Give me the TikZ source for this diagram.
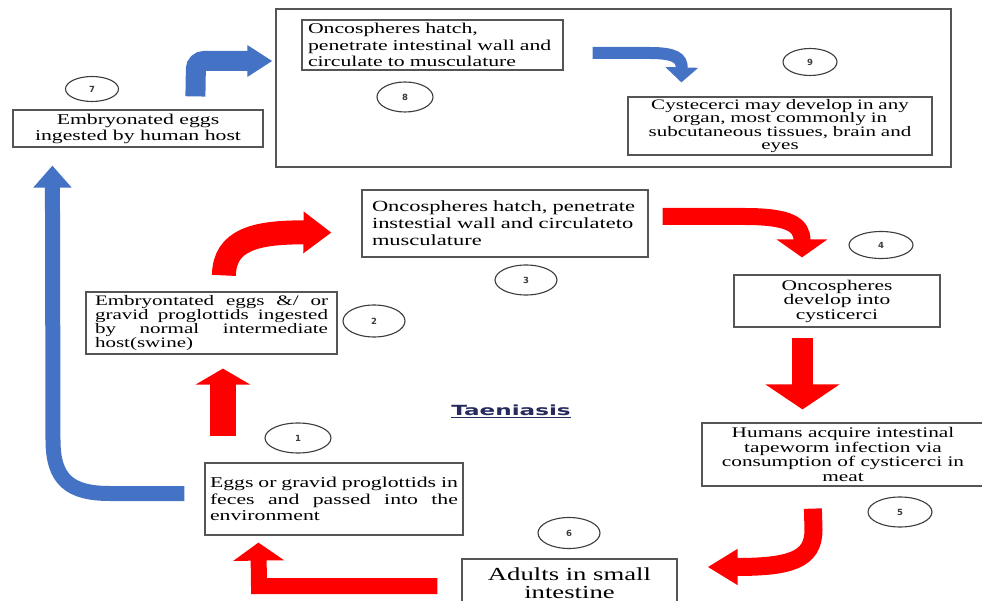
\documentclass[tikz,border=0pt]{standalone}
\usepackage{xcolor}
\usepackage{tikz}
\usepackage{fontspec}
\setmainfont[FakeStretch=1.45]{Liberation Serif}
\newfontfamily\titlefont[FakeStretch=1.65]{DejaVu Sans}
\newfontfamily\ringfont{DejaVu Sans}
\usetikzlibrary{shapes,arrows.meta,positioning,calc}
\definecolor{flowred}{RGB}{255, 0, 0}
\definecolor{flowblue}{RGB}{68, 114, 196}
\definecolor{framegray}{RGB}{85, 85, 85}
\definecolor{ringgray}{RGB}{60, 60, 60}
\definecolor{titlenavy}{RGB}{38, 42, 92}
\newcommand{\spreadline}[1]{\makebox[\hsize]{#1}}
\tikzset{
    stage/.style={draw=framegray, line width=1.2pt, fill=white, inner xsep=6pt, inner ysep=1pt},
    ring/.style={draw=ringgray, ellipse, line width=1.1pt, inner sep=0pt,
        font=\ringfont\bfseries\fontsize{8.5}{8.5}\selectfont, text=ringgray},
    redflow/.style={draw=flowred, line width=#1},
    blueflow/.style={draw=flowblue, line width=#1},
}

\begin{document}
\begin{tikzpicture}[x=1pt, y=-1pt]
    \useasboundingbox (0,0) rectangle (982,601);
    % human host frame
    \node[draw=framegray, line width=1.2pt, minimum width=675, minimum height=158] (hostframe) at (613.5,88) {};
    \node[stage, minimum width=261, minimum height=50, text width=249, align=left,
        font=\fontsize{15}{16.5}\selectfont] (hatchhuman) at (432.5,45)
        {Oncospheres hatch,\\ penetrate intestinal wall and\\ circulate to musculature};
    \node[stage, minimum width=304, minimum height=58, text width=292, align=center,
        font=\fontsize{14.5}{13.6}\selectfont] (cysticerci) at (780,126)
        {Cystecerci may develop in any\\ organ, most commonly in\\ subcutaneous tissues, brain and\\ eyes};
    \node[stage, minimum width=250, minimum height=37, align=center,
        font=\fontsize{15}{16}\selectfont] (eggshuman) at (138,128.5)
        {Embryonated eggs\\ ingested by human host};
    % swine cycle
    \node[stage, minimum width=251, minimum height=62, text width=233, inner xsep=9pt, align=left,
        font=\fontsize{14.5}{14}\selectfont] (eggsswine) at (211.5,323)
        {\spreadline{Embryontated\hfill eggs\hfill \&/\hfill or}\\ \spreadline{gravid\hfill proglottids\hfill ingested}\\
         \spreadline{by\hfill normal\hfill intermediate}\\ host(swine)};
    \node[stage, minimum width=286, minimum height=67, text width=266, inner xsep=10pt, align=left,
        font=\fontsize{15.5}{17}\selectfont] (hatchswine) at (505,223.5)
        {Oncospheres hatch, penetrate\\ instestial wall and circulateto\\ musculature};
    \node[stage, minimum width=206, minimum height=52, align=center,
        font=\fontsize{14.8}{14.5}\selectfont] (develop) at (837,301)
        {Oncospheres\\ develop into\\ cysticerci};
    \node[stage, minimum width=282, minimum height=63, align=center,
        font=\fontsize{14.7}{14.7}\selectfont] (meat) at (843,454.5)
        {Humans acquire intestinal\\ tapeworm infection via\\ consumption of cysticerci in\\ meat};
    \node[stage, minimum width=215, minimum height=49, align=center,
        font=\fontsize{18.4}{18}\selectfont] (adults) at (569.5,583.5)
        {Adults in small\\ intestine};
    \node[stage, minimum width=258, minimum height=72, text width=248, inner xsep=5pt, align=left,
        font=\fontsize{15}{16.5}\selectfont] (feces) at (334,499)
        {\spreadline{Eggs\hfill or\hfill gravid\hfill proglottids\hfill in}\\ \spreadline{feces\hfill and\hfill passed\hfill into\hfill the}\\ environment};
    \node[text=titlenavy, font=\titlefont\bfseries\fontsize{14}{14}\selectfont] (title) at (511,411) {\underline{Taeniasis}};
    % step numbers
    \node[ring, minimum width=66, minimum height=30] (ring1) at (298,438) {1};
    \node[ring, minimum width=62, minimum height=32] (ring2) at (374,321) {2};
    \node[ring, minimum width=62, minimum height=30] (ring3) at (526,280) {3};
    \node[ring, minimum width=64, minimum height=27] (ring4) at (881,245) {4};
    \node[ring, minimum width=64, minimum height=30] (ring5) at (900,512) {5};
    \node[ring, minimum width=62, minimum height=31] (ring6) at (569,533) {6};
    \node[ring, minimum width=53, minimum height=25] (ring7) at (92,89) {7};
    \node[ring, minimum width=56, minimum height=30] (ring8) at (405,97) {8};
    \node[ring, minimum width=54, minimum height=27] (ring9) at (810,62) {9};
    % red arrows
    \draw[redflow=26, -{Triangle[width=54,length=16]}]
        ($(feces.north west)+(18.5,-26)$) -- ($(eggsswine.south west)+(137.5,14)$);
    \draw[redflow=24, -{Triangle[width=40,length=28]}]
        ($(eggsswine.north west)+(138.5,-16)$) .. controls (224.5,240) and (255,232) .. ($(hatchswine.south west)+(-30,-25)$);
    \draw[redflow=17, -{Triangle[width=50,length=18]}]
        ($(hatchswine.east)+(14,-7)$) -- (745,216.5) .. controls (790,216.5) and (802,225) .. ($(develop.north)+(-35,-17)$);
    \draw[redflow=21, -{Triangle[width=73,length=25]}]
        ($(develop.south)+(-34.5,10)$) -- ($(meat.north)+(-40.5,-13)$);
    \draw[redflow=18, -{Triangle[width=34,length=30]}]
        ($(meat.south west)+(111.5,22)$) -- (813.5,530) .. controls (813.5,560) and (790,567) .. ($(adults.east)+(30,-16.5)$);
    \draw[redflow=16, -{Triangle[width=50,length=18]}]
        ($(adults.west)+(-24,2.5)$) -- (259,586) -- ($(feces.south west)+(54,7)$);
    % blue arrows
    \draw[blueflow=15, -{Triangle[width=37,length=22]}]
        ($(feces.west)+(-20,-5.5)$) -- (110,493.5) .. controls (70,493.5) and (53,480) .. (53,440) -- ($(eggshuman.south west)+(40,18)$);
    \draw[blueflow=20, rounded corners=8, -{Triangle[width=30,length=25]}]
        ($(eggshuman.north west)+(183,-13)$) -- (196,61) -- ($(hostframe.west)+(-3,-27)$);
    \draw[blueflow=12, -{Triangle[width=32,length=15]}]
        ($(hatchhuman.east)+(29,8)$) -- (650,53) .. controls (675,53) and (682,58) .. ($(cysticerci.north west)+(54,-14)$);
\end{tikzpicture}
\end{document}
